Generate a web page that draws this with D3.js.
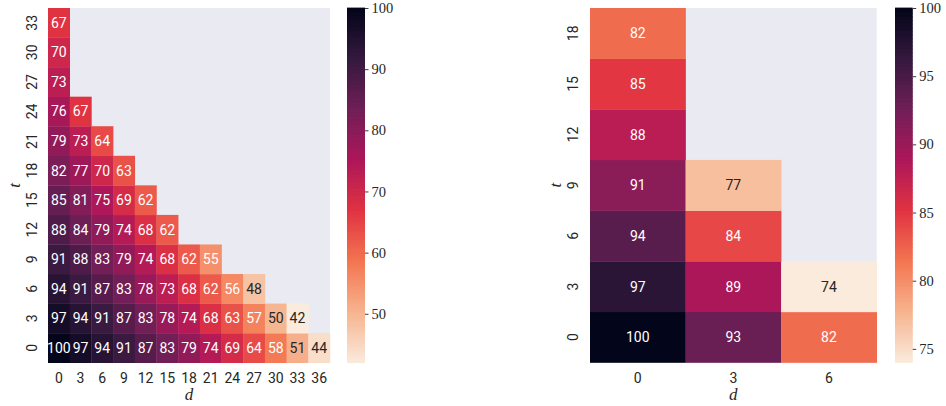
<!DOCTYPE html>
<html><head><meta charset="utf-8">
<script src="https://cdn.jsdelivr.net/npm/d3@7"></script>
<style>
body{margin:0;background:#fff;}
svg{display:block;}
</style></head>
<body><svg id="c" width="946" height="406"></svg>
<script>
// ---- data ----
const leftD = [0,3,6,9,12,15,18,21,24,27,30,33,36];
const leftT = [0,3,6,9,12,15,18,21,24,27,30,33];
// rows indexed by t (t=0 first), values across d
const leftValues = [
  [100,97,94,91,87,83,79,74,69,64,58,51,44],
  [97,94,91,87,83,78,74,68,63,57,50,42],
  [94,91,87,83,78,73,68,62,56,48],
  [91,88,83,79,74,68,62,55],
  [88,84,79,74,68,62],
  [85,81,75,69,62],
  [82,77,70,63],
  [79,73,64],
  [76,67],
  [73],
  [70],
  [67]
];
const leftCbTicks = [50,60,70,80,90,100];

const rightD = [0,3,6];
const rightT = [0,3,6,9,12,15,18];
const rightValues = [
  [100,93,82],
  [97,89,74],
  [94,84],
  [91,77],
  [88],
  [85],
  [82]
];
const rightCbTicks = [75,80,85,90,95,100];

// rocket colormap anchors (seaborn)
const rocketStops = ["#03051a","#35193e","#701f57","#ad1759","#e13342","#f37651","#f6b48f","#faebdd"];
const rocket = d3.scaleLinear().domain(d3.range(rocketStops.length).map(i=>i/(rocketStops.length-1)))
  .range(rocketStops).interpolate(d3.interpolateRgb).clamp(true);

function lum(c){
  const rgb = d3.rgb(c);
  const f = v => { v/=255; return v<=0.03928 ? v/12.92 : Math.pow((v+0.055)/1.055,2.4); };
  return 0.2126*f(rgb.r)+0.7152*f(rgb.g)+0.0722*f(rgb.b);
}

const svg = d3.select("#c");
const sansFont = "Roboto, 'DejaVu Sans', sans-serif";
const serifFont = "'Liberation Serif', 'DejaVu Serif', serif";
const textCol = "#262626";

function heatmap(cfg){
  const {d, t, values, x0, x1, y0, y1, cbx0, cbx1, ticks, yLabelX, yTickX} = cfg;
  const all = values.flat();
  const vmin = d3.min(all), vmax = d3.max(all);
  const cmap = v => rocket(1 - (v - vmin)/(vmax - vmin));
  const xs = d3.scaleBand().domain(d).range([x0,x1]);
  const ys = d3.scaleBand().domain(t.slice().reverse()).range([y0,y1]);
  const g = svg.append("g");
  g.append("rect").attr("x",x0).attr("y",y0).attr("width",x1-x0).attr("height",y1-y0).attr("fill","#eaeaf2");
  const cells = [];
  values.forEach((row,i)=>row.forEach((v,j)=>cells.push({t:t[i], d:d[j], v})));
  g.selectAll("rect.cell").data(cells).enter().append("rect").attr("class","cell")
    .attr("x",c=>xs(c.d)).attr("y",c=>ys(c.t))
    .attr("width",xs.bandwidth()+0.3).attr("height",ys.bandwidth()+0.3)
    .attr("fill",c=>cmap(c.v));
  g.selectAll("text.ann").data(cells).enter().append("text").attr("class","ann")
    .attr("x",c=>xs(c.d)+xs.bandwidth()/2).attr("y",c=>ys(c.t)+ys.bandwidth()/2)
    .attr("text-anchor","middle").attr("dominant-baseline","central")
    .attr("font-family",sansFont).attr("font-size",cfg.annSize)
    .attr("fill",c=> lum(cmap(c.v))>0.408 ? textCol : "#ffffff")
    .text(c=>c.v);
  // x ticks
  g.selectAll("text.xt").data(d).enter().append("text").attr("class","xt")
    .attr("x",v=>xs(v)+xs.bandwidth()/2).attr("y",y1+15)
    .attr("text-anchor","middle").attr("dominant-baseline","central")
    .attr("font-family",sansFont).attr("font-size",14).attr("fill",textCol).text(v=>v);
  // y ticks rotated
  g.selectAll("text.yt").data(t).enter().append("text").attr("class","yt")
    .attr("transform",v=>`translate(${yTickX},${ys(v)+ys.bandwidth()/2}) rotate(-90)`)
    .attr("text-anchor","middle").attr("dominant-baseline","central")
    .attr("font-family",sansFont).attr("font-size",14).attr("fill",textCol).text(v=>v);
  // axis labels
  g.append("text").attr("x",(x0+x1)/2).attr("y",y1+32).attr("text-anchor","middle")
    .attr("dominant-baseline","central")
    .attr("font-family",serifFont).attr("font-style","italic").attr("font-size",17).attr("fill",textCol).text("d");
  g.append("text").attr("transform",`translate(${yLabelX},${(y0+y1)/2}) rotate(-90)`)
    .attr("text-anchor","middle").attr("dominant-baseline","central")
    .attr("font-family",serifFont).attr("font-style","italic").attr("font-size",17).attr("fill",textCol).text("t");
  // colorbar
  const cy = d3.scaleLinear().domain([vmin,vmax]).range([y1,y0]);
  const steps = d3.range(256).map(i=>vmin + (vmax-vmin)*i/256);
  const stepH = (y1-y0)/256;
  g.selectAll("rect.cb").data(steps).enter().append("rect").attr("class","cb")
    .attr("x",cbx0).attr("width",cbx1-cbx0)
    .attr("y",v=>cy(v)-stepH-0.4).attr("height",stepH+0.8)
    .attr("fill",v=>cmap(v+(vmax-vmin)/512));
  const ax = g.append("g").attr("transform",`translate(${cbx1},0)`)
    .call(d3.axisRight(cy).tickValues(ticks).tickSize(3.5).tickPadding(3));
  ax.select(".domain").remove();
  ax.selectAll("line").attr("stroke",textCol).attr("stroke-width",0.9);
  ax.selectAll("text").attr("font-family",serifFont).attr("font-size",14.5).attr("fill",textCol);
}

heatmap({d:leftD, t:leftT, values:leftValues, x0:48, x1:330, y0:8, y1:362.7,
  cbx0:347, cbx1:365, ticks:leftCbTicks, yLabelX:14, yTickX:32, annSize:14});
heatmap({d:rightD, t:rightT, values:rightValues, x0:590, x1:876.7, y0:8, y1:362.5,
  cbx0:895, cbx1:912.7, ticks:rightCbTicks, yLabelX:555, yTickX:573, annSize:14});
</script>
</body></html>
